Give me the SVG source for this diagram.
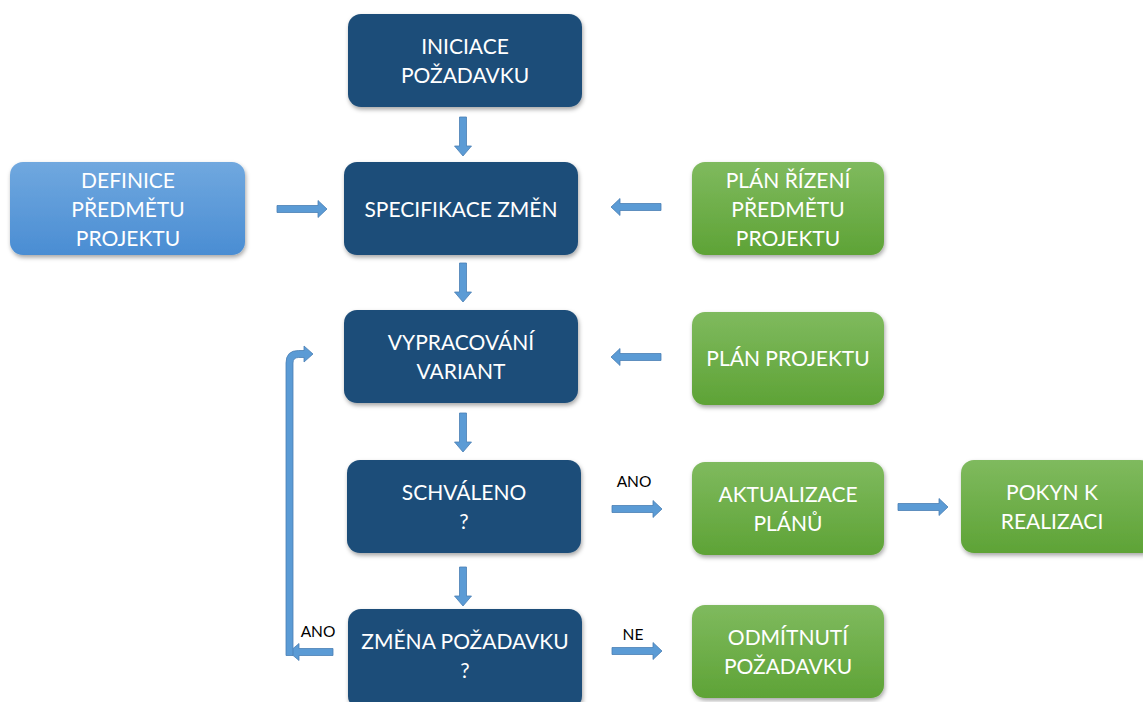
<svg xmlns="http://www.w3.org/2000/svg" width="1143" height="702" viewBox="0 0 1143 702">
  <defs>
    <linearGradient id="gGreen" x1="0" y1="0" x2="0" y2="1">
      <stop offset="0" stop-color="#7fba5e"/>
      <stop offset="1" stop-color="#5ea336"/>
    </linearGradient>
    <linearGradient id="gBlue" x1="0" y1="0" x2="0" y2="1">
      <stop offset="0" stop-color="#70a8df"/>
      <stop offset="1" stop-color="#4a8dd3"/>
    </linearGradient>
    <filter id="shadow" x="-10%" y="-10%" width="125%" height="135%">
      <feDropShadow dx="1" dy="2.5" stdDeviation="2" flood-color="#000" flood-opacity="0.35"/>
    </filter>
    <!-- block arrow pointing right, length 50 -->
    <path id="arrH" d="M0,-3.5 H41 V-8.5 L50,0 L41,8.5 V3.5 H0 Z"/>
    <!-- block arrow pointing down, length 39 -->
    <path id="arrV" d="M-3.5,0 H3.5 V29 H8.5 L0,39 L-8.5,29 H-3.5 Z"/>
  </defs>
  <style>
    .dark { fill: #1f4e79; filter: url(#shadow); }
    .green { fill: url(#gGreen); filter: url(#shadow); }
    .blue { fill: url(#gBlue); filter: url(#shadow); }
    .lbl { font-family: Lato, "Open Sans", "Liberation Sans", sans-serif; font-size: 21px; fill: #ffffff; text-anchor: middle; }
    .note { font-family: Lato, "Liberation Sans", sans-serif; font-size: 15.5px; fill: #000000; text-anchor: middle; }
    .arr { fill: #5b9bd5; stroke: #4a7fb4; stroke-width: 0.8; }
  </style>

  <rect width="1143" height="702" fill="#ffffff"/>

  <g id="connectors">
    <use href="#arrV" class="arr" transform="translate(463,117)"/>
    <use href="#arrV" class="arr" transform="translate(463,263)"/>
    <use href="#arrV" class="arr" transform="translate(463,413)"/>
    <use href="#arrV" class="arr" transform="translate(463,567)"/>
    <use href="#arrH" class="arr" transform="translate(277,209)"/>
    <use href="#arrH" class="arr" transform="translate(661,207) rotate(180)"/>
    <use href="#arrH" class="arr" transform="translate(661,357) rotate(180)"/>
    <use href="#arrH" class="arr" transform="translate(612,509)"/>
    <use href="#arrH" class="arr" transform="translate(898,507)"/>
    <use href="#arrH" class="arr" transform="translate(612,651)"/>
    <!-- return loop from ZMĚNA POŽADAVKU back to VYPRACOVÁNÍ VARIANT -->
    <path class="arr" d="M333,648.5 V655.5 H299 V660.5 L289,652 L299,643.5 V648.5 Z"/>
    <path class="arr" d="M286,655.5 V363 Q286,350.5 298.5,350.5 H304 V346 L313,354 L304,362 V357.5 H298.5 Q293,357.5 293,363 V655.5 Z"/>
    <text class="note" x="634" y="487">ANO</text>
    <text class="note" x="633" y="640">NE</text>
    <text class="note" x="318" y="637">ANO</text>
  </g>

  <g id="n-iniciace">
    <rect class="dark" x="348" y="14" width="234" height="93" rx="13"/>
    <text class="lbl" x="465" y="53.5">INICIACE</text>
    <text class="lbl" x="465" y="82.5">POŽADAVKU</text>
  </g>
  <g id="n-specifikace">
    <rect class="dark" x="344" y="162" width="234" height="93" rx="13"/>
    <text class="lbl" x="461" y="216.5">SPECIFIKACE ZMĚN</text>
  </g>
  <g id="n-vypracovani">
    <rect class="dark" x="344" y="310" width="234" height="93" rx="13"/>
    <text class="lbl" x="461" y="349.5">VYPRACOVÁNÍ</text>
    <text class="lbl" x="461" y="378.5">VARIANT</text>
  </g>
  <g id="n-schvaleno">
    <rect class="dark" x="347" y="460" width="234" height="93" rx="13"/>
    <text class="lbl" x="464" y="499.5">SCHVÁLENO</text>
    <text class="lbl" x="464" y="528.5">?</text>
  </g>
  <g id="n-zmena">
    <rect class="dark" x="348" y="609" width="234" height="100" rx="13"/>
    <text class="lbl" x="465" y="648.5">ZMĚNA POŽADAVKU</text>
    <text class="lbl" x="465" y="677.5">?</text>
  </g>
  <g id="n-definice">
    <rect class="blue" x="10" y="162" width="235" height="93" rx="13"/>
    <text class="lbl" x="128" y="187.5">DEFINICE</text>
    <text class="lbl" x="128" y="216.5">PŘEDMĚTU</text>
    <text class="lbl" x="128" y="245.5">PROJEKTU</text>
  </g>
  <g id="n-plan-rizeni">
    <rect class="green" x="692" y="162" width="192" height="93" rx="13"/>
    <text class="lbl" x="788" y="187.5">PLÁN ŘÍZENÍ</text>
    <text class="lbl" x="788" y="216.5">PŘEDMĚTU</text>
    <text class="lbl" x="788" y="245.5">PROJEKTU</text>
  </g>
  <g id="n-plan-projektu">
    <rect class="green" x="692" y="312" width="192" height="93" rx="13"/>
    <text class="lbl" x="788" y="365.5">PLÁN PROJEKTU</text>
  </g>
  <g id="n-aktualizace">
    <rect class="green" x="692" y="462" width="192" height="93" rx="13"/>
    <text class="lbl" x="788" y="501.5">AKTUALIZACE</text>
    <text class="lbl" x="788" y="530.5">PLÁNŮ</text>
  </g>
  <g id="n-pokyn">
    <rect class="green" x="961" y="460" width="192" height="93" rx="13"/>
    <text class="lbl" x="1052" y="499.5">POKYN K</text>
    <text class="lbl" x="1052" y="528.5">REALIZACI</text>
  </g>
  <g id="n-odmitnuti">
    <rect class="green" x="692" y="605" width="192" height="93" rx="13"/>
    <text class="lbl" x="788" y="644.5">ODMÍTNUTÍ</text>
    <text class="lbl" x="788" y="673.5">POŽADAVKU</text>
  </g>
</svg>
